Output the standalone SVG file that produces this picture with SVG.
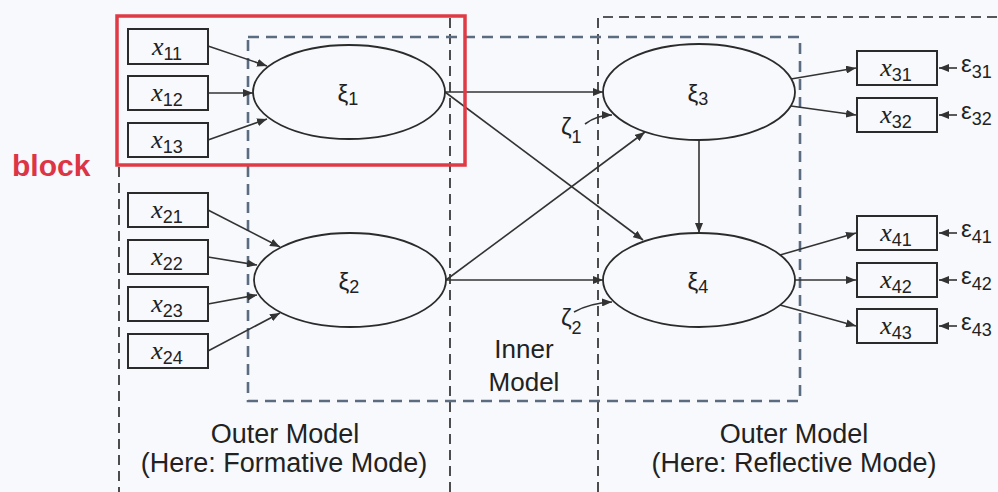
<svg xmlns="http://www.w3.org/2000/svg" width="998" height="492" viewBox="0 0 998 492">
<defs>
<marker id="ah" markerUnits="userSpaceOnUse" markerWidth="11" markerHeight="8" refX="10" refY="4" orient="auto">
<path d="M0,0 L10,4 L0,8 z" fill="#333"/>
</marker>
<style>
.bg{fill:#f7f9fc}
.box{fill:none;stroke:#2b2b2b;stroke-width:2}
.ell{fill:none;stroke:#2b2b2b;stroke-width:1.8}
.ln{fill:none;stroke:#333;stroke-width:1.6;marker-end:url(#ah)}
.outer{fill:none;stroke:#222;stroke-width:1.6;stroke-dasharray:10 6}
.inner{fill:none;stroke:#5b6b80;stroke-width:2.6;stroke-dasharray:11 7}
.xv{font-family:"Liberation Serif",serif;font-style:italic;font-size:26px;fill:#222}
.sub{font-family:"Liberation Sans",sans-serif;font-size:18px;fill:#222}
.gr{font-family:"Liberation Sans",sans-serif;font-size:24px;fill:#222}
.lbl{font-family:"Liberation Sans",sans-serif;font-size:27px;fill:#222;text-anchor:middle}
.lbi{font-family:"Liberation Sans",sans-serif;font-size:26px;fill:#222;text-anchor:middle}
.blk{font-family:"Liberation Sans",sans-serif;font-size:30px;font-weight:bold;fill:#dc3545}
</style>
</defs>
<rect class="bg" x="0" y="0" width="998" height="492"/>

<g id="regions">
<line class="outer" x1="119" y1="167" x2="119" y2="492"/>
<line class="outer" x1="450" y1="18" x2="450" y2="492"/>
<polyline class="outer" points="598,492 598,17 998,17"/>
<rect class="inner" x="248" y="37" width="552" height="364"/>
</g>

<g id="connectors">
<line class="ln" x1="208" y1="46" x2="267" y2="66"/>
<line class="ln" x1="208" y1="93" x2="253" y2="93"/>
<line class="ln" x1="208" y1="140" x2="267" y2="119"/>
<line class="ln" x1="208" y1="210" x2="280" y2="247"/>
<line class="ln" x1="208" y1="257" x2="257" y2="265"/>
<line class="ln" x1="208" y1="304" x2="257" y2="295"/>
<line class="ln" x1="208" y1="351" x2="280" y2="313"/>
<line class="ln" x1="445" y1="92" x2="603" y2="92"/>
<line class="ln" x1="445" y1="92" x2="643" y2="240"/>
<line class="ln" x1="446" y1="280" x2="645" y2="132"/>
<line class="ln" x1="446" y1="280" x2="603" y2="280"/>
<line class="ln" x1="699" y1="140" x2="699" y2="233"/>
<line class="ln" x1="791" y1="79" x2="856" y2="68"/>
<line class="ln" x1="791" y1="106" x2="856" y2="115"/>
<line class="ln" x1="780" y1="255" x2="856" y2="233"/>
<line class="ln" x1="795" y1="280" x2="856" y2="280"/>
<line class="ln" x1="780" y1="305" x2="856" y2="326"/>
<path class="ln" d="M585,124 Q597,115 612,115"/>
<path class="ln" d="M574,312 Q590,303 612,302"/>
<line class="ln" x1="957" y1="68" x2="939" y2="68"/>
<line class="ln" x1="957" y1="115" x2="939" y2="115"/>
<line class="ln" x1="957" y1="233" x2="939" y2="233"/>
<line class="ln" x1="957" y1="280" x2="939" y2="280"/>
<line class="ln" x1="957" y1="326" x2="939" y2="326"/>
</g>

<g id="x11"><rect class="box" x="128" y="29" width="80" height="35"/><text x="167" y="55" text-anchor="middle"><tspan class="xv">x</tspan><tspan class="sub" dy="5">11</tspan></text></g>
<g id="x12"><rect class="box" x="128" y="76" width="80" height="34"/><text x="167" y="101" text-anchor="middle"><tspan class="xv">x</tspan><tspan class="sub" dy="5">12</tspan></text></g>
<g id="x13"><rect class="box" x="128" y="123" width="80" height="34"/><text x="167" y="148" text-anchor="middle"><tspan class="xv">x</tspan><tspan class="sub" dy="5">13</tspan></text></g>
<g id="x21"><rect class="box" x="128" y="193" width="80" height="34"/><text x="167" y="218" text-anchor="middle"><tspan class="xv">x</tspan><tspan class="sub" dy="5">21</tspan></text></g>
<g id="x22"><rect class="box" x="128" y="240" width="80" height="34"/><text x="167" y="265" text-anchor="middle"><tspan class="xv">x</tspan><tspan class="sub" dy="5">22</tspan></text></g>
<g id="x23"><rect class="box" x="128" y="287" width="80" height="34"/><text x="167" y="312" text-anchor="middle"><tspan class="xv">x</tspan><tspan class="sub" dy="5">23</tspan></text></g>
<g id="x24"><rect class="box" x="128" y="334" width="80" height="34"/><text x="167" y="359" text-anchor="middle"><tspan class="xv">x</tspan><tspan class="sub" dy="5">24</tspan></text></g>

<g id="xi1"><ellipse class="ell" cx="349" cy="92" rx="96" ry="47"/><text x="348" y="102" text-anchor="middle"><tspan class="gr">ξ</tspan><tspan class="sub" dy="3">1</tspan></text></g>
<g id="xi2"><ellipse class="ell" cx="350" cy="280" rx="96" ry="47"/><text x="349" y="290" text-anchor="middle"><tspan class="gr">ξ</tspan><tspan class="sub" dy="3">2</tspan></text></g>
<g id="xi3"><ellipse class="ell" cx="699" cy="92" rx="96" ry="48"/><text x="698" y="102" text-anchor="middle"><tspan class="gr">ξ</tspan><tspan class="sub" dy="3">3</tspan></text></g>
<g id="xi4"><ellipse class="ell" cx="699" cy="280" rx="96" ry="47"/><text x="698" y="290" text-anchor="middle"><tspan class="gr">ξ</tspan><tspan class="sub" dy="3">4</tspan></text></g>

<g id="zeta1"><text x="561" y="135"><tspan class="gr">ζ</tspan><tspan class="sub" dy="8">1</tspan></text></g>
<g id="zeta2"><text x="561" y="326"><tspan class="gr">ζ</tspan><tspan class="sub" dy="8">2</tspan></text></g>

<g id="x31"><rect class="box" x="857" y="51" width="80" height="34"/><text x="896" y="76" text-anchor="middle"><tspan class="xv">x</tspan><tspan class="sub" dy="5">31</tspan></text></g>
<g id="x32"><rect class="box" x="857" y="98" width="80" height="34"/><text x="896" y="123" text-anchor="middle"><tspan class="xv">x</tspan><tspan class="sub" dy="5">32</tspan></text></g>
<g id="x41"><rect class="box" x="857" y="216" width="80" height="34"/><text x="896" y="241" text-anchor="middle"><tspan class="xv">x</tspan><tspan class="sub" dy="5">41</tspan></text></g>
<g id="x42"><rect class="box" x="857" y="263" width="80" height="34"/><text x="896" y="288" text-anchor="middle"><tspan class="xv">x</tspan><tspan class="sub" dy="5">42</tspan></text></g>
<g id="x43"><rect class="box" x="857" y="309" width="80" height="34"/><text x="896" y="334" text-anchor="middle"><tspan class="xv">x</tspan><tspan class="sub" dy="5">43</tspan></text></g>

<g id="eps31"><text x="961" y="72"><tspan class="gr">ε</tspan><tspan class="sub" dy="6">31</tspan></text></g>
<g id="eps32"><text x="961" y="119"><tspan class="gr">ε</tspan><tspan class="sub" dy="6">32</tspan></text></g>
<g id="eps41"><text x="961" y="237"><tspan class="gr">ε</tspan><tspan class="sub" dy="6">41</tspan></text></g>
<g id="eps42"><text x="961" y="284"><tspan class="gr">ε</tspan><tspan class="sub" dy="6">42</tspan></text></g>
<g id="eps43"><text x="961" y="330"><tspan class="gr">ε</tspan><tspan class="sub" dy="6">43</tspan></text></g>

<g id="labels">
<text class="lbi" x="524" y="358">Inner</text>
<text class="lbi" x="524" y="391">Model</text>
<text class="lbl" x="285" y="443">Outer Model</text>
<text class="lbl" x="284" y="472">(Here: Formative Mode)</text>
<text class="lbl" x="794" y="443">Outer Model</text>
<text class="lbl" x="794" y="472">(Here: Reflective Mode)</text>
</g>

<g id="block">
<rect x="117" y="16" width="348" height="149" fill="none" stroke="#e03a45" stroke-width="3.5"/>
<text class="blk" x="12" y="176">block</text>
</g>
</svg>
